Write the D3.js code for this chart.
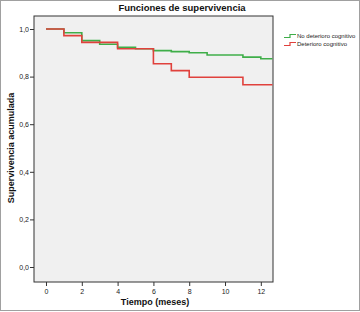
<!DOCTYPE html>
<html><head><meta charset="utf-8">
<script src="https://cdn.jsdelivr.net/npm/d3@7"></script>
<style>body{margin:0;background:#fff}svg{display:block}text{font-family:"Liberation Sans",Arial,sans-serif}</style>
</head><body>
<script>
const seriesNames = ["No deterioro cognitivo", "Deterioro cognitivo"];
const seriesColors = ["#3fae49", "#e0413c"];
const greenTimes = [0, 1, 2, 3, 4, 5, 6, 7, 8, 9, 11, 12, 12.65];
const greenSurv  = [1.0, 0.984, 0.951, 0.936, 0.923, 0.917, 0.909, 0.905, 0.900, 0.891, 0.882, 0.875, 0.875];
const redTimes = [0, 1, 2, 4, 6, 7, 8, 11, 12.65];
const redSurv  = [1.0, 0.972, 0.944, 0.917, 0.854, 0.825, 0.797, 0.766, 0.766];
const xTicks = [0, 2, 4, 6, 8, 10, 12];
const yTicks = [0, 0.2, 0.4, 0.6, 0.8, 1.0];

const W = 360, H = 312;
const svg = d3.select("body").append("svg").attr("width", W).attr("height", H);
svg.append("rect").attr("x",0.5).attr("y",0.5).attr("width",W-1).attr("height",H-2)
  .attr("fill","#fff").attr("stroke","#a0a0a0");

const L = 34, R = 273, T = 16, B = 282;
const x = d3.scaleLinear().domain([-0.67, 12.68]).range([L, R]);
const y = d3.scaleLinear().domain([0, 1]).range([267, 29]);

svg.append("rect").attr("x", L).attr("y", T).attr("width", R-L).attr("height", B-T)
  .attr("fill", "#f0f0f0").attr("stroke", "#333").attr("stroke-width", 1);

const fmt = d => d3.format(".1f")(d).replace(".", ",");
const yAxis = svg.append("g").attr("transform", `translate(${L},0)`)
  .call(d3.axisLeft(y).tickValues(yTicks).tickFormat(fmt).tickSize(4).tickPadding(1));
const xAxis = svg.append("g").attr("transform", `translate(0,${B})`)
  .call(d3.axisBottom(x).tickValues(xTicks).tickFormat(d3.format("d")).tickSize(4).tickPadding(3));
[yAxis, xAxis].forEach(g => {
  g.select(".domain").remove();
  g.selectAll("line").attr("stroke", "#333");
  g.selectAll("text").attr("font-size", "7px").attr("fill", "#222");
});

const line = d3.line().x(d => x(d[0])).y(d => y(d[1])).curve(d3.curveStepAfter);
[[greenTimes, greenSurv], [redTimes, redSurv]].forEach((s, i) => {
  const pts = s[0].map((t, j) => [t, s[1][j]]);
  svg.append("path").datum(pts).attr("d", line).attr("fill", "none")
    .attr("stroke", seriesColors[i]).attr("stroke-width", 1.6);
});

svg.append("text").attr("x", 182).attr("y", 11).attr("text-anchor", "middle")
  .attr("font-size", "9.5px").attr("font-weight", "bold").attr("fill","#111").text("Funciones de supervivencia");
svg.append("text").attr("x", 155).attr("y", 305).attr("text-anchor", "middle")
  .attr("font-size", "9px").attr("font-weight", "bold").attr("fill","#111").text("Tiempo (meses)");
svg.append("text").attr("transform", "translate(14,148) rotate(-90)").attr("text-anchor", "middle")
  .attr("font-size", "9px").attr("font-weight", "bold").attr("fill","#111").text("Supervivencia acumulada");

const leg = svg.append("g");
seriesNames.forEach((n, i) => {
  const yy = 36 + i * 8;
  leg.append("path").attr("d", `M284,${yy+1.5}H290V${yy-1.5}H296`).attr("fill","none")
    .attr("stroke", seriesColors[i]).attr("stroke-width", 1.2);
  leg.append("text").attr("x", 297).attr("y", yy + 2).attr("font-size", "6px").attr("fill","#222").text(n);
});
</script>
</body></html>
